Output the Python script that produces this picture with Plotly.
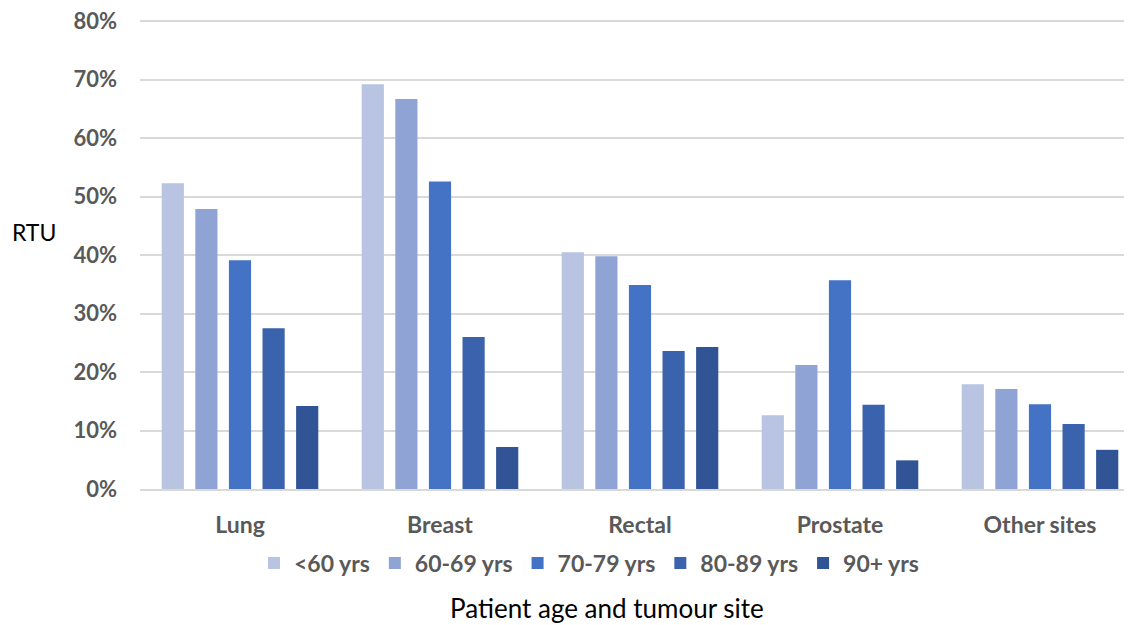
import plotly.graph_objects as go

sites = ["Lung", "Breast", "Rectal", "Prostate", "Other sites"]
age_groups = ["<60 yrs", "60-69 yrs", "70-79 yrs", "80-89 yrs", "90+ yrs"]
lt60 = [0.523, 0.692, 0.405, 0.126, 0.179]
a60_69 = [0.479, 0.667, 0.398, 0.212, 0.171]
a70_79 = [0.391, 0.526, 0.349, 0.357, 0.145]
a80_89 = [0.275, 0.260, 0.236, 0.144, 0.111]
a90p = [0.142, 0.072, 0.243, 0.049, 0.067]
y_ticks = [0.0, 0.1, 0.2, 0.3, 0.4, 0.5, 0.6, 0.7, 0.8]
y_tick_labels = ["0%", "10%", "20%", "30%", "40%", "50%", "60%", "70%", "80%"]
series = [lt60, a60_69, a70_79, a80_89, a90p]
colors = ["#B9C3E2", "#8FA4D4", "#4472C4", "#3B63AD", "#305495"]

FONT = "Lato"
GRAY = "#595959"

fig = go.Figure()
for name, vals, col in zip(age_groups, series, colors):
    fig.add_trace(go.Bar(x=sites, y=vals, name=name, marker=dict(color=col, line=dict(width=0))))

fig.update_layout(
    width=1132, height=625,
    margin=dict(l=132, r=0, t=12, b=144),
    paper_bgcolor="white", plot_bgcolor="white",
    barmode="group", bargap=0.16, bargroupgap=0.34,
    font=dict(family=FONT, color=GRAY, size=22),
    legend=dict(orientation="h", x=0.449, xanchor="center", y=-0.158, yanchor="middle",
                font=dict(family=FONT, size=23, color=GRAY, weight="bold"),
                itemclick=False, traceorder="normal"),
    showlegend=True,
)
fig.update_yaxes(range=[0, 0.802], tickmode="array", tickvals=y_ticks, ticktext=y_tick_labels,
                 showgrid=True, gridcolor="#D9D9D9", gridwidth=1.5, zeroline=False, showline=False,
                 tickfont=dict(family=FONT, size=22, color=GRAY, weight="bold"),
                 ticklabelstandoff=22, ticklabeloverflow="allow")
fig.update_xaxes(showline=True, linecolor="#D9D9D9", linewidth=1.5, ticks="",
                 tickfont=dict(family=FONT, size=23, color=GRAY, weight="bold"),
                 ticklabelstandoff=15)
fig.add_annotation(text="RTU", xref="paper", yref="paper", x=-0.13, y=0.549,
                   xanchor="left", yanchor="middle", showarrow=False,
                   font=dict(family=FONT, size=23, color="black"))
fig.add_annotation(text="Patient age and tumour site", xref="paper", yref="paper",
                   x=0.467, y=-0.254, xanchor="center", yanchor="middle",
                   showarrow=False, font=dict(family=FONT, size=26, color="black"))
fig.write_html("out.html")
